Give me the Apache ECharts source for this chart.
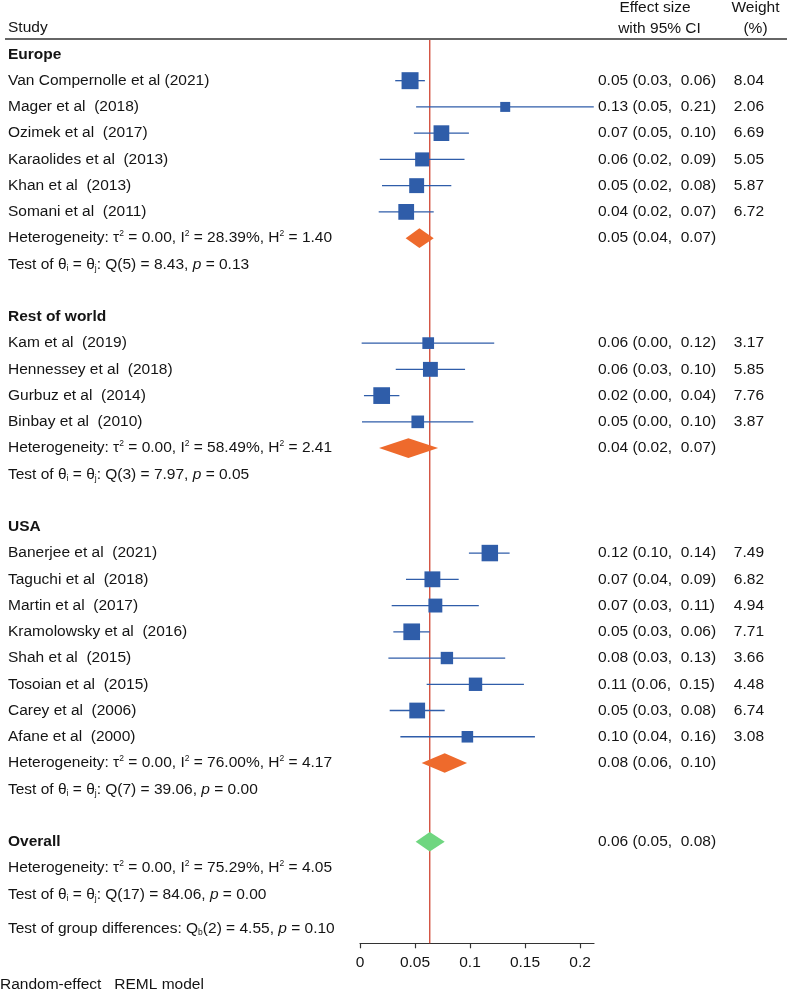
<!DOCTYPE html>
<html><head><meta charset="utf-8">
<script src="https://cdn.jsdelivr.net/npm/echarts@6/dist/echarts.min.js"></script>
<style>html,body{margin:0;padding:0;background:#fff}#c{width:787px;height:992px}</style>
</head><body><div id="c"></div>
<script>
// ---------------- data ----------------
const groups = ['Europe', 'Rest of world', 'USA'];
const studies = [
  'Van Compernolle et al (2021)', 'Mager et al  (2018)', 'Ozimek et al  (2017)',
  'Karaolides et al  (2013)', 'Khan et al  (2013)', 'Somani et al  (2011)',
  'Kam et al  (2019)', 'Hennessey et al  (2018)', 'Gurbuz et al  (2014)', 'Binbay et al  (2010)',
  'Banerjee et al  (2021)', 'Taguchi et al  (2018)', 'Martin et al  (2017)', 'Kramolowsky et al  (2016)',
  'Shah et al  (2015)', 'Tosoian et al  (2015)', 'Carey et al  (2006)', 'Afane et al  (2000)'
];
const studyGroup = [0,0,0,0,0,0, 1,1,1,1, 2,2,2,2,2,2,2,2];
const effect = [0.0455, 0.132, 0.074, 0.0565, 0.0515, 0.042,
                0.062, 0.064, 0.0197, 0.0525,
                0.118, 0.0658, 0.0685, 0.047, 0.079, 0.105, 0.052, 0.0976];
const ciLow  = [0.032, 0.051, 0.049, 0.018, 0.020, 0.017,
                0.0015, 0.0325, 0.0036, 0.0018,
                0.099, 0.0418, 0.0288, 0.0303, 0.0258, 0.0606, 0.027, 0.0367];
const ciHigh = [0.059, 0.2125, 0.099, 0.095, 0.083, 0.067,
                0.122, 0.0955, 0.0358, 0.103,
                0.136, 0.0897, 0.108, 0.0634, 0.132, 0.149, 0.077, 0.159];
const weight = [8.04, 2.06, 6.69, 5.05, 5.87, 6.72,
                3.17, 5.85, 7.76, 3.87,
                7.49, 6.82, 4.94, 7.71, 3.66, 4.48, 6.74, 3.08];
const effectText = [
  '0.05 (0.03,  0.06)', '0.13 (0.05,  0.21)', '0.07 (0.05,  0.10)', '0.06 (0.02,  0.09)', '0.05 (0.02,  0.08)', '0.04 (0.02,  0.07)',
  '0.06 (0.00,  0.12)', '0.06 (0.03,  0.10)', '0.02 (0.00,  0.04)', '0.05 (0.00,  0.10)',
  '0.12 (0.10,  0.14)', '0.07 (0.04,  0.09)', '0.07 (0.03,  0.11)', '0.05 (0.03,  0.06)', '0.08 (0.03,  0.13)', '0.11 (0.06,  0.15)', '0.05 (0.03,  0.08)', '0.10 (0.04,  0.16)'
];
const weightText = ['8.04','2.06','6.69','5.05','5.87','6.72','3.17','5.85','7.76','3.87','7.49','6.82','4.94','7.71','3.66','4.48','6.74','3.08'];
const groupEffect = [0.054, 0.044, 0.077];
const groupLow    = [0.0415, 0.0173, 0.056];
const groupHigh   = [0.067, 0.071, 0.0973];
const groupEffectText = ['0.05 (0.04,  0.07)', '0.04 (0.02,  0.07)', '0.08 (0.06,  0.10)'];
const groupTau2 = ['0.00', '0.00', '0.00'];
const groupI2   = ['28.39%', '58.49%', '76.00%'];
const groupH2   = ['1.40', '2.41', '4.17'];
const groupQdf  = ['5', '3', '7'];
const groupQ    = ['8.43', '7.97', '39.06'];
const groupP    = ['0.13', '0.05', '0.00'];
const overallEffect = 0.0634, overallLow = 0.0506, overallHigh = 0.077;
const overallEffectText = '0.06 (0.05,  0.08)';
const overallTau2 = '0.00', overallI2 = '75.29%', overallH2 = '4.05';
const overallQdf = '17', overallQ = '84.06', overallP = '0.00';
const groupDiffDf = '2', groupDiffQ = '4.55', groupDiffP = '0.10';
const xTicks = [0, 0.05, 0.1, 0.15, 0.2];

// ---------------- layout / style ----------------
const FONT = '"Liberation Sans", Arial, Helvetica, sans-serif';
const FS = 15.5;
const TXT = '#141414';
const BLUE = '#2f5da9';
const ORANGE = '#ee6a2c';
const GREEN = '#6fd680';
const RED = '#d04431';
const X_LEFT = 8, X_EFF = 598, X_W = 764;
const Y_MIN = -0.55, Y_MAX = 33.87;

const rich = {
  t:   {fontSize: FS, fontFamily: FONT, color: TXT, lineHeight: 18},
  b:   {fontSize: FS, fontFamily: FONT, color: TXT, lineHeight: 18, fontWeight: 'bold'},
  it:  {fontSize: FS, fontFamily: FONT, color: TXT, lineHeight: 18, fontStyle: 'italic'},
  sup: {fontSize: 8.5, fontFamily: FONT, color: TXT, verticalAlign: 'top'},
  sub: {fontSize: 8.5, fontFamily: FONT, color: TXT, verticalAlign: 'bottom'}
};
function hetStr(t2, i2, h2) {
  return '{t|Heterogeneity: τ}{sup|2}{t| = ' + t2 + ', I}{sup|2}{t| = ' + i2 + ', H}{sup|2}{t| = ' + h2 + '}';
}
function testStr(df, q, p) {
  return '{t|Test of θ}{sub|i}{t| = θ}{sub|j}{t|: Q(' + df + ') = ' + q + ', }{it|p}{t| = ' + p + '}';
}

// build rows
const texts = [];       // {row, x, align, str}
const studyData = [];   // [es, lo, hi, row, w]
const diamondData = []; // [es, lo, hi, row, colorIdx]
let r = 0;
groups.forEach((g, gi) => {
  texts.push({row: r, x: X_LEFT, align: 'left', str: '{b|' + g + '}'});
  r++;
  studies.forEach((s, si) => {
    if (studyGroup[si] !== gi) return;
    texts.push({row: r, x: X_LEFT, align: 'left', str: '{t|' + s + '}'});
    texts.push({row: r, x: X_EFF, align: 'left', str: '{t|' + effectText[si] + '}'});
    texts.push({row: r, x: X_W, align: 'right', str: '{t|' + weightText[si] + '}'});
    studyData.push([effect[si], ciLow[si], ciHigh[si], r, weight[si]]);
    r++;
  });
  texts.push({row: r, x: X_LEFT, align: 'left', str: hetStr(groupTau2[gi], groupI2[gi], groupH2[gi])});
  texts.push({row: r, x: X_EFF, align: 'left', str: '{t|' + groupEffectText[gi] + '}'});
  diamondData.push([groupEffect[gi], groupLow[gi], groupHigh[gi], r, 0]);
  r++;
  texts.push({row: r, x: X_LEFT, align: 'left', str: testStr(groupQdf[gi], groupQ[gi], groupP[gi])});
  r += 2;
});
texts.push({row: r, x: X_LEFT, align: 'left', str: '{b|Overall}'});
texts.push({row: r, x: X_EFF, align: 'left', str: '{t|' + overallEffectText + '}'});
diamondData.push([overallEffect, overallLow, overallHigh, r, 1]);
r++;
texts.push({row: r, x: X_LEFT, align: 'left', str: hetStr(overallTau2, overallI2, overallH2)});
r++;
texts.push({row: r, x: X_LEFT, align: 'left', str: testStr(overallQdf, overallQ, overallP)});
r += 1.3;
texts.push({row: r, x: X_LEFT, align: 'left',
  str: '{t|Test of group differences: Q}{sub|b}{t|(' + groupDiffDf + ') = ' + groupDiffQ + ', }{it|p}{t| = ' + groupDiffP + '}'});

const chart = echarts.init(document.getElementById('c'), null, {renderer: 'canvas'});
chart.setOption({
  animation: false,
  backgroundColor: '#fff',
  grid: {left: 360, top: 40, width: 234, height: 903.3, containLabel: false},
  xAxis: {
    type: 'value', min: 0, max: 0.2127,
    splitLine: {show: false},
    axisLine: {show: true, onZero: false, lineStyle: {color: '#333', width: 1.2}},
    axisTick: {show: true, length: 5, customValues: xTicks, lineStyle: {color: '#333', width: 1.2}},
    axisLabel: {customValues: xTicks, fontSize: FS, fontFamily: FONT, color: TXT, margin: 11,
      formatter: v => String(v)}
  },
  yAxis: {type: 'value', inverse: true, min: Y_MIN, max: Y_MAX, show: false, splitLine: {show: false}},
  graphic: [
    {type: 'text', x: 8, y: 28, style: {text: 'Study', fontSize: FS, fontFamily: FONT, fill: TXT, align: 'left', verticalAlign: 'middle'}},
    {type: 'text', x: 655, y: 7.5, style: {text: 'Effect size', fontSize: FS, fontFamily: FONT, fill: TXT, align: 'center', verticalAlign: 'middle'}},
    {type: 'text', x: 659.5, y: 28.5, style: {text: 'with 95% CI', fontSize: FS, fontFamily: FONT, fill: TXT, align: 'center', verticalAlign: 'middle'}},
    {type: 'text', x: 755.5, y: 7.5, style: {text: 'Weight', fontSize: FS, fontFamily: FONT, fill: TXT, align: 'center', verticalAlign: 'middle'}},
    {type: 'text', x: 755.5, y: 28.5, style: {text: '(%)', fontSize: FS, fontFamily: FONT, fill: TXT, align: 'center', verticalAlign: 'middle'}},
    {type: 'line', shape: {x1: 5, y1: 39, x2: 787, y2: 39}, style: {stroke: '#333', lineWidth: 1.3}},
    {type: 'text', x: 0, y: 985, style: {text: 'Random-effect   REML model', fontSize: FS, fontFamily: FONT, fill: TXT, align: 'left', verticalAlign: 'middle'}}
  ],
  series: [
    { // reference line at overall effect
      type: 'custom', z: 1, silent: true,
      data: [[overallEffect]],
      renderItem: (params, api) => {
        const p1 = api.coord([api.value(0), Y_MIN]);
        const p2 = api.coord([api.value(0), Y_MAX]);
        return {type: 'line', shape: {x1: p1[0], y1: p1[1], x2: p2[0], y2: p2[1]},
          style: {stroke: RED, lineWidth: 1.3}};
      }
    },
    { // study CIs and squares
      type: 'custom', z: 3, silent: true,
      data: studyData,
      renderItem: (params, api) => {
        const row = api.value(3);
        const c = api.coord([api.value(0), row]);
        const pl = api.coord([api.value(1), row]);
        const ph = api.coord([api.value(2), row]);
        const s = 2.8 + 5 * Math.sqrt(api.value(4));
        return {type: 'group', children: [
          {type: 'line', shape: {x1: pl[0], y1: c[1], x2: ph[0], y2: c[1]}, style: {stroke: BLUE, lineWidth: 1.3}},
          {type: 'rect', shape: {x: c[0] - s / 2, y: c[1] - s / 2, width: s, height: s}, style: {fill: BLUE}}
        ]};
      }
    },
    { // pooled diamonds
      type: 'custom', z: 3, silent: true,
      data: diamondData,
      renderItem: (params, api) => {
        const row = api.value(3);
        const c = api.coord([api.value(0), row]);
        const pl = api.coord([api.value(1), row]);
        const ph = api.coord([api.value(2), row]);
        const h = 9.8;
        return {type: 'polygon',
          shape: {points: [[pl[0], c[1]], [c[0], c[1] - h], [ph[0], c[1]], [c[0], c[1] + h]]},
          style: {fill: api.value(4) === 1 ? GREEN : ORANGE}};
      }
    },
    { // row texts
      type: 'custom', z: 4, silent: true,
      data: texts.map(t => [0, t.row]),
      renderItem: (params, api) => {
        const t = texts[params.dataIndex];
        const y = api.coord([0, api.value(1)])[1];
        return {type: 'text', x: t.x, y: y,
          style: {text: t.str, rich: rich, align: t.align, verticalAlign: 'middle',
            fontSize: FS, fontFamily: FONT, fill: TXT}};
      }
    }
  ]
});
</script>
</body></html>
